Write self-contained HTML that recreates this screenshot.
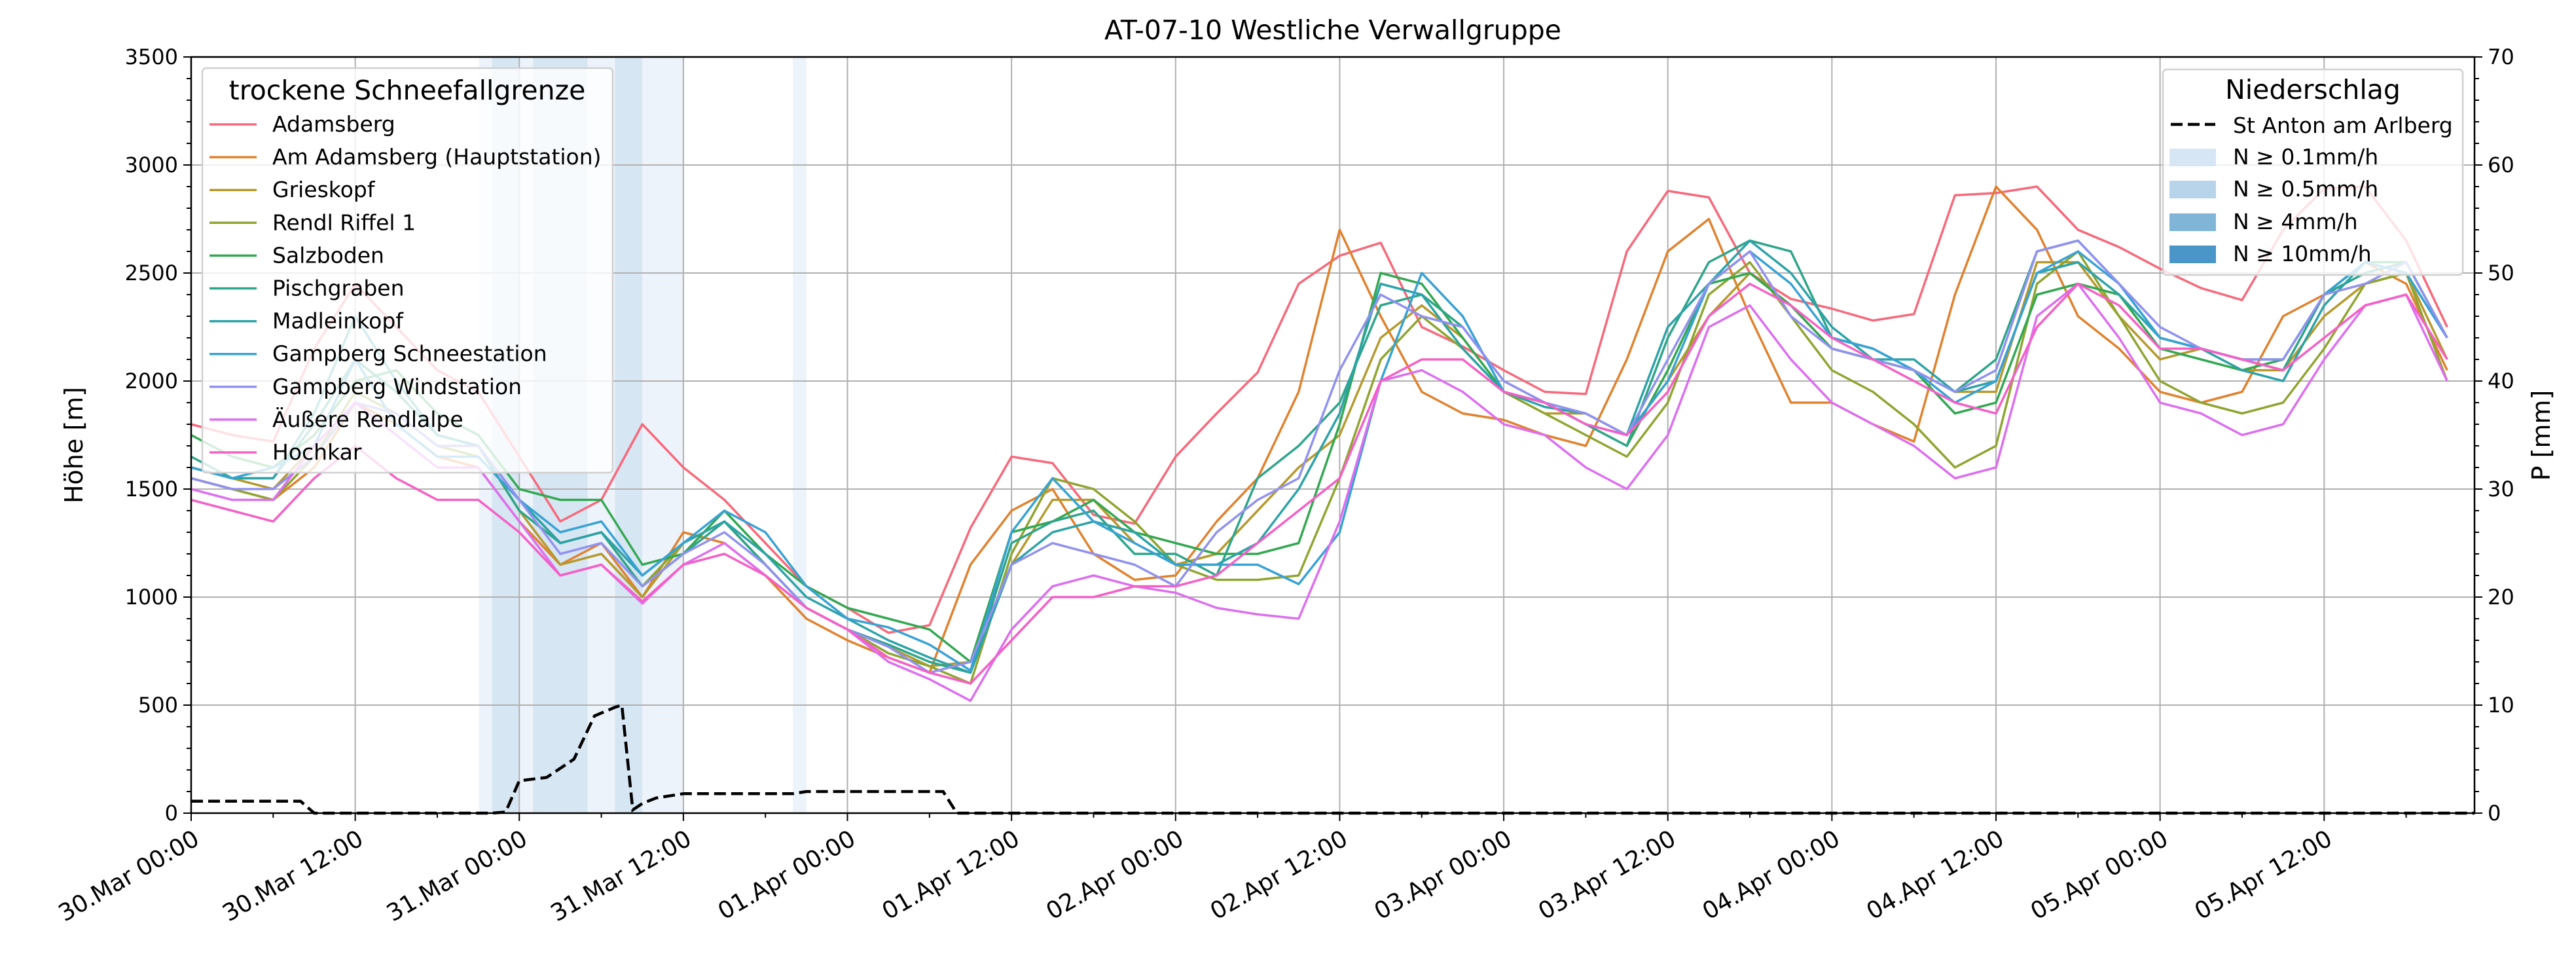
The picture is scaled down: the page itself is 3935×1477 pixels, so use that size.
<!DOCTYPE html>
<html><head><meta charset="utf-8"><style>
html,body{margin:0;padding:0;background:#fff;}
svg{display:block;font-family:"DejaVu Sans","Liberation Sans",sans-serif;}
</style></head><body>
<svg id="chart" width="3935" height="1477" viewBox="0 0 3935 1477" xmlns="http://www.w3.org/2000/svg">
<text x="2036" y="60" font-size="41" text-anchor="middle">AT-07-10 Westliche Verwallgruppe</text>
<g id="bands"></g>
<g id="grid"></g>
<g id="series"></g>
<g id="axes"></g>
<g id="legends"></g>
</svg>
<script>
const seriesNames=["Adamsberg","Am Adamsberg (Hauptstation)","Grieskopf","Rendl Riffel 1","Salzboden","Pischgraben","Madleinkopf","Gampberg Schneestation","Gampberg Windstation","Äußere Rendlalpe","Hochkar"];
const seriesColors=["#f7697b","#e0822e","#b59a2e","#8fa531","#33a852","#2fa58a","#2ea3a8","#38a2d4","#9191f0","#dd6ef0","#f560c6"];
const stepHours=3;
const sAdamsberg=[1800,1750,1720,2150,2450,2250,2050,1950,1650,1350,1450,1800,1600,1450,1250,1050,950,835,870,1320,1650,1620,1380,1340,1650,1850,2040,2450,2580,2640,2250,2160,2050,1950,1940,2600,2880,2850,2500,2380,2335,2280,2310,2860,2870,2900,2700,2620,2520,2430,2375,2700,2890,2900,2650,2250];
const sAmAdamsberg=[1550,1500,1450,1600,1900,1800,1650,1600,1350,1150,1250,1000,1300,1250,1100,900,800,720,650,1150,1400,1500,1200,1080,1100,1350,1550,1950,2700,2300,1950,1850,1820,1750,1700,2100,2600,2750,2300,1900,1900,1800,1720,2400,2900,2700,2300,2150,1950,1900,1950,2300,2400,2550,2450,2050];
const sGrieskopf=[1600,1550,1500,1700,2100,1950,1750,1700,1400,1150,1200,1000,1250,1350,1150,950,850,770,680,700,1150,1450,1450,1250,1150,1200,1400,1600,1750,2200,2350,2200,1950,1850,1850,1750,2000,2300,2500,2350,2150,2100,2050,1950,1950,2550,2550,2300,2100,2150,2050,2050,2300,2450,2500,2100];
const sRendl=[1550,1500,1450,1650,1950,1850,1700,1650,1450,1250,1300,1050,1250,1350,1150,950,850,740,680,600,1200,1550,1500,1350,1150,1080,1080,1100,1550,2100,2300,2150,1950,1850,1750,1650,1900,2400,2550,2300,2050,1950,1800,1600,1700,2450,2600,2300,2000,1900,1850,1900,2150,2450,2500,2000];
const sSalzboden=[1750,1650,1600,1750,2000,2050,1850,1750,1500,1450,1450,1150,1200,1400,1200,1050,950,900,850,700,1300,1350,1450,1300,1250,1200,1200,1250,1800,2500,2450,2200,1950,1900,1800,1700,2050,2450,2500,2350,2150,2100,2050,1850,1900,2400,2450,2400,2150,2100,2050,2100,2400,2550,2550,2200];
const sPischgraben=[1650,1550,1550,1800,2100,1950,1750,1700,1400,1250,1300,1050,1200,1350,1150,950,850,780,700,650,1250,1350,1400,1200,1200,1100,1550,1700,1900,2350,2400,2250,2000,1900,1800,1700,2200,2550,2650,2600,2200,2150,2050,1950,2100,2600,2650,2450,2200,2150,2100,2050,2400,2500,2550,2200];
const sMadleinkopf=[1600,1550,1550,1850,2300,2000,1750,1700,1450,1250,1300,1100,1250,1350,1200,1000,900,800,720,650,1150,1300,1350,1300,1150,1150,1250,1500,1850,2450,2400,2150,1950,1880,1850,1750,2250,2450,2650,2500,2250,2100,2100,1950,2000,2500,2550,2400,2200,2150,2050,2000,2350,2550,2500,2200];
const sGampSchnee=[1600,1550,1600,1700,2100,1800,1650,1650,1450,1300,1350,1100,1250,1400,1300,1050,900,860,780,660,1300,1550,1350,1250,1150,1150,1150,1060,1300,2000,2500,2300,1950,1900,1800,1750,2000,2450,2600,2450,2200,2150,2050,1900,2000,2500,2600,2450,2200,2150,2100,2100,2400,2550,2500,2200];
const sGampWind=[1550,1500,1500,1650,1900,1850,1700,1700,1450,1200,1250,1050,1200,1300,1150,950,850,770,650,700,1150,1250,1200,1150,1050,1300,1450,1550,2050,2400,2300,2250,2000,1900,1850,1750,2100,2450,2600,2300,2150,2100,2050,1950,2050,2600,2650,2450,2250,2150,2100,2100,2400,2450,2550,2200];
const sRendlalpe=[1500,1450,1450,1700,1900,1750,1600,1600,1350,1100,1150,970,1150,1250,1100,950,850,700,620,520,850,1050,1100,1050,1020,950,920,900,1350,2000,2050,1950,1800,1750,1600,1500,1750,2250,2350,2100,1900,1800,1700,1550,1600,2300,2450,2200,1900,1850,1750,1800,2100,2350,2400,2000];
const sHochkar=[1450,1400,1350,1550,1700,1550,1450,1450,1300,1100,1150,980,1150,1200,1100,950,850,720,650,600,800,1000,1000,1050,1050,1100,1250,1400,1550,2000,2100,2100,1950,1900,1800,1750,1950,2300,2450,2350,2200,2100,2000,1900,1850,2250,2450,2350,2150,2150,2100,2050,2200,2350,2400,2100];
const seriesValues=[sAdamsberg,sAmAdamsberg,sGrieskopf,sRendl,sSalzboden,sPischgraben,sMadleinkopf,sGampSchnee,sGampWind,sRendlalpe,sHochkar];
const precipHours=[0,8,9,22,23,24,26,28,29.5,31,31.5,32.3,33,34,36,44,45,55,56,167];
const precipValues=[1.1,1.1,0,0,0.1,3,3.3,5,9,9.8,10,0.3,0.9,1.4,1.8,1.8,2.0,2.0,0,0];
const bandStart=[21.05,22,24,25,29,31,33,44];
const bandEnd=[22,24,25,29,31,33,36,45];
const bandLevel=[0,1,0,1,0,1,0,0];
const yTicks=[0,500,1000,1500,2000,2500,3000,3500];
const pTicks=[0,10,20,30,40,50,60,70];
const xTickLabels=["30.Mar 00:00","30.Mar 12:00","31.Mar 00:00","31.Mar 12:00","01.Apr 00:00","01.Apr 12:00","02.Apr 00:00","02.Apr 12:00","03.Apr 00:00","03.Apr 12:00","04.Apr 00:00","04.Apr 12:00","05.Apr 00:00","05.Apr 12:00"];

const NS="http://www.w3.org/2000/svg";
const L=292,R=3780,T=87,B=1242,TMAX=167;
const xs=h=>L+(R-L)*h/TMAX;
const ys=v=>B-(B-T)*v/3500;
const yp=p=>B-(B-T)*p/70;
function mk(tag,parent){const e=document.createElementNS(NS,tag);parent.appendChild(e);return e;}
const bands=document.getElementById('bands'),grid=document.getElementById('grid'),ser=document.getElementById('series'),axes=document.getElementById('axes'),leg=document.getElementById('legends');
const bandColors=["#edf3fa","#d7e6f3"];
for(let i=0;i<bandStart.length;i++){const r=mk('rect',bands);


r.setAttribute('x',xs(bandStart[i]));r.setAttribute('y',T);r.setAttribute('width',xs(bandEnd[i])-xs(bandStart[i]));r.setAttribute('height',B-T);r.setAttribute('fill',bandColors[bandLevel[i]]);}
for(let i=0;i<xTickLabels.length;i++){const x=xs(i*12);const g=mk('line',grid);


g.setAttribute('x1',x);g.setAttribute('x2',x);g.setAttribute('y1',T);g.setAttribute('y2',B);g.setAttribute('stroke','#b0b0b0');g.setAttribute('stroke-width','2');}
for(const v of yTicks){const g=mk('line',grid);


g.setAttribute('x1',L);g.setAttribute('x2',R);g.setAttribute('y1',ys(v));g.setAttribute('y2',ys(v));g.setAttribute('stroke','#b0b0b0');g.setAttribute('stroke-width','2');}
seriesValues.forEach((arr,k)=>{const p=mk('polyline',ser);


p.setAttribute('points',arr.map((v,i)=>xs(i*stepHours).toFixed(1)+','+ys(v).toFixed(1)).join(' '));p.setAttribute('fill','none');p.setAttribute('stroke',seriesColors[k]);p.setAttribute('stroke-width','3.5');p.setAttribute('stroke-linejoin','round');});
const pl=mk('polyline',ser);


pl.setAttribute('points',precipHours.map((h,i)=>xs(h).toFixed(1)+','+yp(precipValues[i]).toFixed(1)).join(' '));pl.setAttribute('fill','none');pl.setAttribute('stroke','#000');pl.setAttribute('stroke-width','4.5');pl.setAttribute('stroke-dasharray','18,8');
const fr=mk('rect',axes);


fr.setAttribute('x',L);fr.setAttribute('y',T);fr.setAttribute('width',R-L);fr.setAttribute('height',B-T);fr.setAttribute('fill','none');fr.setAttribute('stroke','#000');fr.setAttribute('stroke-width','2.5');
function tick(x1,y1,x2,y2){const l=mk('line',axes);


l.setAttribute('x1',x1);l.setAttribute('y1',y1);l.setAttribute('x2',x2);l.setAttribute('y2',y2);l.setAttribute('stroke','#000');l.setAttribute('stroke-width','2');}
for(let v=0;v<=3500;v+=100){const big=v%500===0;tick(L,ys(v),L-(big?12:7),ys(v));}
for(let p=0;p<=70;p+=2){const big=p%10===0;tick(R,yp(p),R+(big?12:7),yp(p));}
for(let h=0;h<=TMAX;h+=6){tick(xs(h),B,xs(h),B+(h%12===0?12:7));}
for(const v of yTicks){const t=mk('text',axes);


t.setAttribute('x',L-20);t.setAttribute('y',ys(v)+11);t.setAttribute('font-size','32');t.setAttribute('text-anchor','end');t.textContent=v;}
for(const p of pTicks){const t=mk('text',axes);


t.setAttribute('x',R+20);t.setAttribute('y',yp(p)+11);t.setAttribute('font-size','32');t.textContent=p;}
xTickLabels.forEach((s,i)=>{const x=xs(i*12);const t=mk('text',axes);


t.setAttribute('transform','translate('+(x+2)+','+(B+24)+') rotate(-30)');t.setAttribute('font-size','36');t.setAttribute('text-anchor','end');t.setAttribute('dominant-baseline','hanging');t.textContent=s;});
const yl=mk('text',axes);


yl.setAttribute('transform','translate(126,680) rotate(-90)');yl.setAttribute('font-size','38');yl.setAttribute('text-anchor','middle');yl.textContent='Höhe [m]';
const pl2=mk('text',axes);


pl2.setAttribute('transform','translate(3895,665) rotate(-90)');pl2.setAttribute('font-size','38');pl2.setAttribute('text-anchor','middle');pl2.textContent='P [mm]';
const lb=mk('rect',leg);


lb.setAttribute('x',309);lb.setAttribute('y',104);lb.setAttribute('width',627);lb.setAttribute('height',618);lb.setAttribute('rx',6);lb.setAttribute('fill','rgba(255,255,255,0.8)');lb.setAttribute('stroke','#d0d0d0');lb.setAttribute('stroke-width','2.5');
const lt=mk('text',leg);


lt.setAttribute('x',622);lt.setAttribute('y',152);lt.setAttribute('font-size','41');lt.setAttribute('text-anchor','middle');lt.textContent='trockene Schneefallgrenze';
seriesNames.forEach((n,i)=>{const y=190+i*50.1;const l=mk('line',leg);


l.setAttribute('x1',320);l.setAttribute('x2',392);l.setAttribute('y1',y);l.setAttribute('y2',y);l.setAttribute('stroke',seriesColors[i]);l.setAttribute('stroke-width','3.5');
const t=mk('text',leg);


t.setAttribute('x',416);t.setAttribute('y',y+11);t.setAttribute('font-size','33');t.textContent=n;});
const rb=mk('rect',leg);


rb.setAttribute('x',3304);rb.setAttribute('y',106);rb.setAttribute('width',458);rb.setAttribute('height',314);rb.setAttribute('rx',6);rb.setAttribute('fill','rgba(255,255,255,0.8)');rb.setAttribute('stroke','#d0d0d0');rb.setAttribute('stroke-width','2.5');
const rt=mk('text',leg);


rt.setAttribute('x',3533);rt.setAttribute('y',151);rt.setAttribute('font-size','41');rt.setAttribute('text-anchor','middle');rt.textContent='Niederschlag';
const dl=mk('line',leg);


dl.setAttribute('x1',3316);dl.setAttribute('x2',3384);dl.setAttribute('y1',190);dl.setAttribute('y2',190);dl.setAttribute('stroke','#000');dl.setAttribute('stroke-width','4.5');dl.setAttribute('stroke-dasharray','18,8');
const rLabels=["St Anton am Arlberg","N ≥ 0.1mm/h","N ≥ 0.5mm/h","N ≥ 4mm/h","N ≥ 10mm/h"];
const rColors=[null,"#d6e6f4","#b8d4ea","#80b5d8","#4a96c8"];
const rY=[192,240,289,339,388];
rLabels.forEach((s,i)=>{if(rColors[i]){const r=mk('rect',leg);


r.setAttribute('x',3314);r.setAttribute('y',rY[i]-13);r.setAttribute('width',71);r.setAttribute('height',27);r.setAttribute('fill',rColors[i]);}
const t=mk('text',leg);


t.setAttribute('x',3411);t.setAttribute('y',rY[i]+11);t.setAttribute('font-size','33');t.textContent=s;});
</script>
</body></html>
